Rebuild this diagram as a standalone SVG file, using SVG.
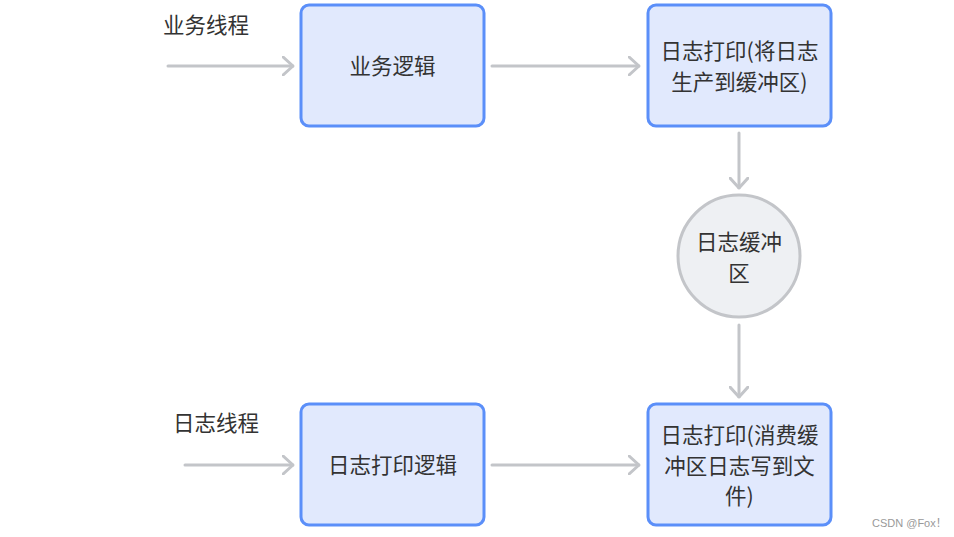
<svg xmlns="http://www.w3.org/2000/svg" width="954" height="537" viewBox="0 0 954 537">
<defs>
<style>
.box{fill:#e1e9fd;stroke:#5b8ff9;stroke-width:3}
.t{font-family:"Noto Sans CJK SC","Noto Sans",sans-serif;font-size:21.5px;fill:#333;text-anchor:middle}
.lbl{font-family:"Noto Sans CJK SC","Noto Sans",sans-serif;font-size:21.5px;fill:#333}
.c{fill:none;stroke:#c3c5c9;stroke-width:3;stroke-linecap:round}
</style>
<marker id="ah" viewBox="0 0 12 20" refX="11" refY="10" markerWidth="12" markerHeight="20" markerUnits="userSpaceOnUse" orient="auto">
<path d="M1,1 L11,10 L1,19" fill="none" stroke="#c3c5c9" stroke-width="3" stroke-linecap="round" stroke-linejoin="round"/>
</marker>
</defs>
<rect width="954" height="537" fill="#fff"/>
<g id="connectors">
<path class="c" d="M168,66 H293" marker-end="url(#ah)"/>
<path class="c" d="M492,66 H639" marker-end="url(#ah)"/>
<path class="c" d="M739,133 V188" marker-end="url(#ah)"/>
<path class="c" d="M739,325 V397" marker-end="url(#ah)"/>
<path class="c" d="M185,465 H293" marker-end="url(#ah)"/>
<path class="c" d="M492,465 H639" marker-end="url(#ah)"/>
</g>
<g id="label-biz"><text class="lbl" x="163" y="33">业务线程</text></g>
<g id="label-log"><text class="lbl" x="173" y="431">日志线程</text></g>
<g id="n1"><rect class="box" x="301" y="5" width="183" height="121" rx="8"/><text class="t" x="392.5" y="74">业务逻辑</text></g>
<g id="n2"><rect class="box" x="648" y="5" width="183" height="121" rx="8"/><text class="t" x="739.5" y="59">日志打印(将日志</text><text class="t" x="739.5" y="90">生产到缓冲区)</text></g>
<g id="n3"><circle cx="739" cy="256" r="61" fill="#eef0f3" stroke="#c3c5c9" stroke-width="3"/><text class="t" x="739" y="250">日志缓冲</text><text class="t" x="739" y="281">区</text></g>
<g id="n4"><rect class="box" x="301" y="404" width="183" height="121" rx="8"/><text class="t" x="392.5" y="473">日志打印逻辑</text></g>
<g id="n5"><rect class="box" x="648" y="404" width="183" height="121" rx="8"/><text class="t" x="739.5" y="443">日志打印(消费缓</text><text class="t" x="739.5" y="474">冲区日志写到文</text><text class="t" x="739.5" y="504">件)</text></g>
<text x="872" y="527" font-family="'Liberation Sans','Noto Sans CJK SC',sans-serif" font-size="11" fill="#999">CSDN @Fox！</text>
</svg>
